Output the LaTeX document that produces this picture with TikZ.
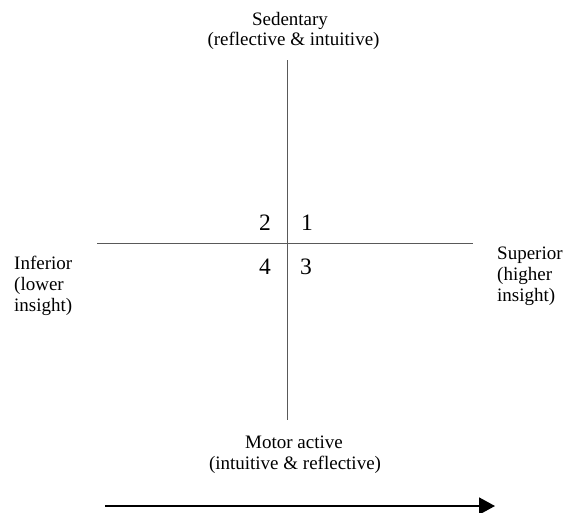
\documentclass[tikz,border=0pt]{standalone}
\usepackage{fontspec}
\setmainfont{Liberation Serif}
\usetikzlibrary{arrows.meta}
\begin{document}
\begin{tikzpicture}[x=1pt,y=-1pt,
  lbl/.style={inner sep=0pt,font=\fontsize{19}{21}\selectfont},
  num/.style={inner sep=0pt,anchor=base,font=\fontsize{23.5}{28}\selectfont},
  axis/.style={line width=1pt,draw=black!65}]
\useasboundingbox (0,0) rectangle (565,512);
\node[lbl,anchor=base] (topA) at (290,25) {Sedentary};
\node[lbl,anchor=base] (topB) at (293.5,45) {(reflective \& intuitive)};
\node[lbl,anchor=base] (botA) at (294,448) {Motor active};
\node[lbl,anchor=base] (botB) at (295,469) {(intuitive \& reflective)};
\node[lbl,anchor=base west] (leftA) at (14,269) {Inferior};
\node[lbl,anchor=base west] (leftB) at (14,290) {(lower};
\node[lbl,anchor=base west] (leftC) at (14,311) {insight)};
\node[lbl,anchor=base west] (rightA) at (497,259) {Superior};
\node[lbl,anchor=base west] (rightB) at (497,280) {(higher};
\node[lbl,anchor=base west] (rightC) at (497,301) {insight)};
\coordinate (vt) at (287,60);
\coordinate (vb) at (287,420);
\coordinate (hl) at (97,243);
\coordinate (hr) at (473,243);
\draw[axis] (vt) -- (vb);
\draw[axis] (hl) -- (hr);
\node[num] (n2) at (265,230) {2};
\node[num] (n1) at (307,230) {1};
\node[num] (n4) at (265,274) {4};
\node[num] (n3) at (306,274) {3};
\coordinate (as) at (105,506);
\coordinate (ae) at (495,506);
\draw[line width=1.8pt,-{Triangle[length=16pt,width=17pt]}] (as) -- (ae);
\end{tikzpicture}
\end{document}
